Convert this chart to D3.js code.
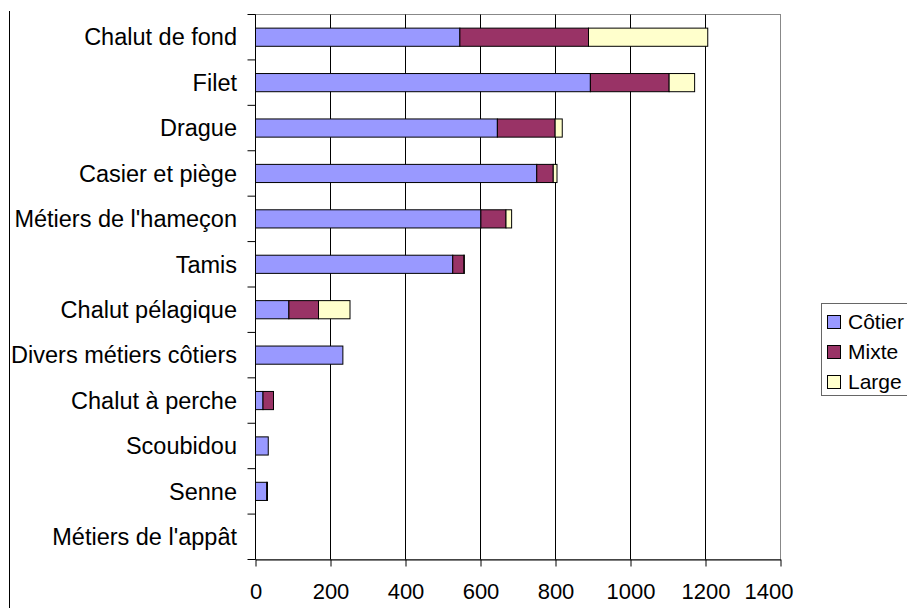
<!DOCTYPE html>
<html>
<head>
<meta charset="utf-8">
<script src="https://cdn.jsdelivr.net/npm/d3@7"></script>
<style>
  html, body { margin: 0; padding: 0; background: #fff; }
  text { font-family: Arial, "Liberation Sans", sans-serif; fill: #000; }
</style>
</head>
<body>
<div id="chart"></div>
<script>
// Fishing gear categories, top to bottom
const categories = [
    "Chalut de fond", "Filet", "Drague", "Casier et piège",
    "Métiers de l'hameçon", "Tamis", "Chalut pélagique",
    "Divers métiers côtiers", "Chalut à perche", "Scoubidou",
    "Senne", "Métiers de l'appât"
];
const seriesNames = ["Côtier", "Mixte", "Large"];
const cotier = [545, 893, 645, 750, 601, 526, 89, 233, 20, 34, 30, 0];
const mixte  = [343, 210, 154, 44, 67, 30, 79, 0, 28, 0, 2, 0];
const large  = [318, 68, 19, 10, 15, 1, 84, 0, 0, 0, 0, 0];
const xTicks = [0, 200, 400, 600, 800, 1000, 1200, 1400];

const colors = ["#9999FF", "#993366", "#FFFFCC"];

const width = 907, height = 611;
const plot = { left: 255.5, right: 780.5, top: 14.5, bottom: 559.5 };

const svg = d3.select("#chart").append("svg")
    .attr("width", width)
    .attr("height", height);

// stray chart border on the left
svg.append("line")
    .attr("x1", 9.5).attr("x2", 9.5)
    .attr("y1", 11).attr("y2", 608)
    .attr("stroke", "#000");

const x = d3.scaleLinear().domain([0, 1400]).range([plot.left, plot.right]);
const y = d3.scaleBand().domain(categories)
    .range([plot.top, plot.bottom])
    .paddingInner(0.6).paddingOuter(0.3);

// plot frame (grey top/right)
svg.append("rect")
    .attr("x", plot.left).attr("y", plot.top)
    .attr("width", plot.right - plot.left)
    .attr("height", plot.bottom - plot.top)
    .attr("fill", "none")
    .attr("stroke", "#888");

// vertical gridlines
svg.append("g").selectAll("line")
    .data(xTicks.slice(1, -1))
    .enter().append("line")
    .attr("x1", d => x(d)).attr("x2", d => x(d))
    .attr("y1", plot.top).attr("y2", plot.bottom)
    .attr("stroke", "#000");

// stacked bars
const rows = categories.map((c, i) => ({ cat: c, "Côtier": cotier[i], "Mixte": mixte[i], "Large": large[i] }));
const stacked = d3.stack().keys(seriesNames)(rows);

svg.append("g").selectAll("g")
    .data(stacked)
    .enter().append("g")
    .attr("fill", (d, i) => colors[i])
    .selectAll("rect")
    .data(d => d.filter(s => s[1] - s[0] > 0))
    .enter().append("rect")
    .attr("x", d => x(d[0]))
    .attr("y", d => y(d.data.cat))
    .attr("width", d => x(d[1]) - x(d[0]))
    .attr("height", y.bandwidth())
    .attr("stroke", "#000")
    .attr("stroke-width", 1);

// x axis
const xAxis = svg.append("g")
    .attr("transform", `translate(0,${plot.bottom})`)
    .call(d3.axisBottom(x).tickValues(xTicks).tickFormat(d3.format("d"))
        .tickSize(7).tickSizeOuter(0).tickPadding(17));
xAxis.select(".domain").attr("stroke", "#000");
xAxis.selectAll(".tick line").attr("stroke", "#000");
xAxis.selectAll("text")
    .style("font-size", "22px")
    .attr("fill", "#000");
// last label is pulled inside the chart area, as in the original
xAxis.selectAll(".tick text").filter(d => d === 1400).attr("dx", -12);

// y axis line and ticks at category boundaries
svg.append("line")
    .attr("x1", plot.left).attr("x2", plot.left)
    .attr("y1", plot.top).attr("y2", plot.bottom)
    .attr("stroke", "#000");
svg.append("g").selectAll("line")
    .data(d3.range(categories.length + 1))
    .enter().append("line")
    .attr("x1", plot.left - 8).attr("x2", plot.left)
    .attr("y1", i => plot.top + i * y.step())
    .attr("y2", i => plot.top + i * y.step())
    .attr("stroke", "#000");

// category labels
svg.append("g").selectAll("text")
    .data(categories)
    .enter().append("text")
    .attr("x", 237)
    .attr("y", d => y(d) + y.bandwidth() / 2)
    .attr("dy", "0.35em")
    .attr("text-anchor", "end")
    .style("font-size", "23.5px")
    .text(d => d);

// legend
const legend = svg.append("g");
legend.append("rect")
    .attr("x", 821.5).attr("y", 303.5)
    .attr("width", 120).attr("height", 92)
    .attr("fill", "#fff")
    .attr("stroke", "#666");

const items = legend.selectAll("g.item")
    .data(seriesNames)
    .enter().append("g")
    .attr("class", "item")
    .attr("transform", (d, i) => `translate(0,${322 + i * 30})`);
items.append("rect")
    .attr("x", 827.5).attr("y", -6.5)
    .attr("width", 13).attr("height", 13)
    .attr("fill", (d, i) => colors[i])
    .attr("stroke", "#000");
items.append("text")
    .attr("x", 848)
    .attr("dy", "0.35em")
    .style("font-size", "21px")
    .text(d => d);
</script>
</body>
</html>
